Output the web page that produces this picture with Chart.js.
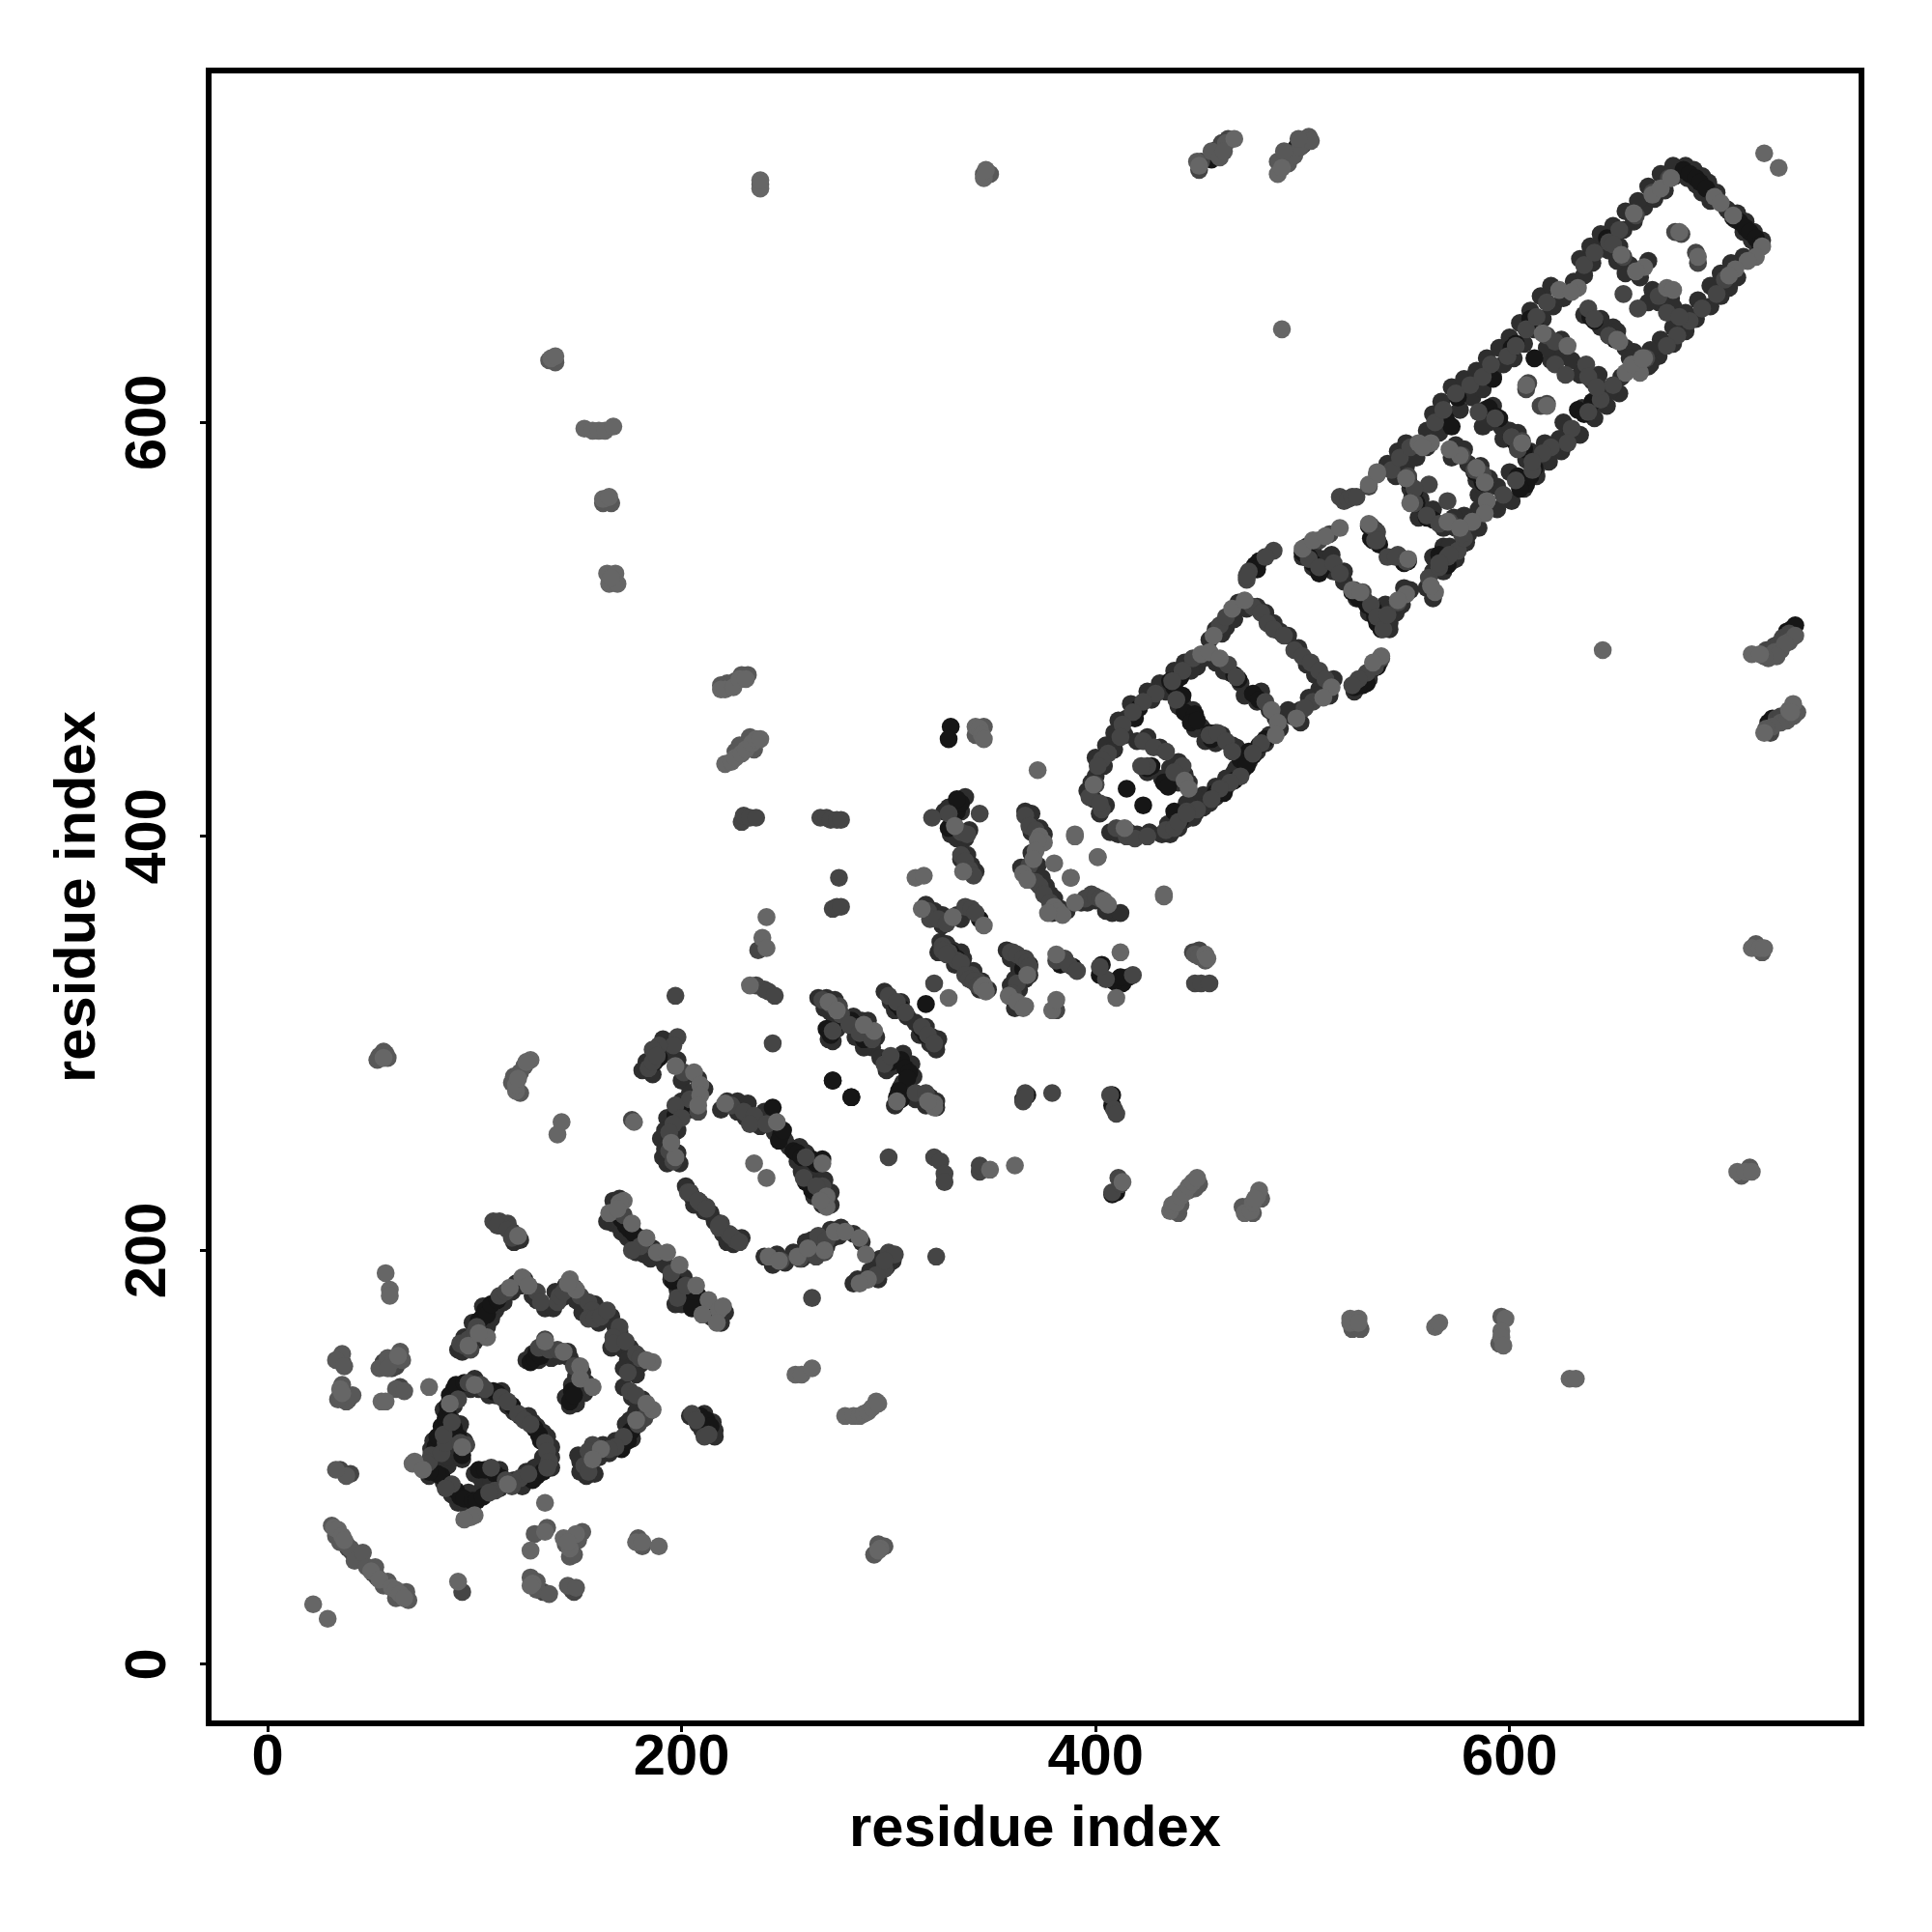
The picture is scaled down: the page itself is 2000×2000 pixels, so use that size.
<!DOCTYPE html>
<html>
<head>
<meta charset="utf-8">
<title>Residue contact map</title>
<script src="https://cdn.jsdelivr.net/npm/chart.js@4"></script>
<style>
    html, body { margin: 0; background: #fff; }
    canvas { display: block; }
</style>
</head>
<body>
<canvas id="contactChart" width="2000" height="2000"></canvas>
<script>
// axis ticks
const tickValues = [0, 200, 400, 600];

// contacts as [residue, residue], split by how dark they print
const strongContacts = [
    [81,105],[82,110],[84,115],[86,119],[87,121],[87,125],[88,130],[90,133],[91,135],[95,136],[109,132],[111,131],[118,125],
    [129,114],[131,111],[132,108],[84,91],[82,92],[78,93],[76,96],[91,84],[93,81],[95,80],[99,79],[101,79],[104,81],[90,114],
    [92,110],[94,101],[102,94],[105,94],[110,92],[113,90],[130,91],[128,89],[133,93],[102,166],[104,168],[105,171],[106,169],
    [108,174],[111,176],[175,112],[171,104],[174,108],[176,113],[127,146],[129,148],[130,151],[132,149],[146,127],[147,132],
    [148,130],[209,120],[212,118],[214,115],[169,218],[171,215],[173,212],[175,210],[177,208],[204,228],[208,224],[196,185],
    [200,183],[204,179],[206,176],[208,178],[211,173],[205,172],[189,293],[187,291],[199,267],[197,265],[202,270],[204,268],
    [244,269],[248,256],[247,253],[249,258],[254,248],[256,247],[258,245],[263,244],[268,244],[265,242],[260,233],[263,229],
    [273,282],[273,282],[282,274],[282,274],[279,310],[282,311],[284,309],[286,307],[289,305],[288,302],[272,304],[270,307],
    [304,319],[306,317],[318,304],[316,307],[300,292],[301,291],[306,292],[308,288],[310,286],[309,283],[304,274],[305,277],
    [306,273],[330,344],[333,341],[365,273],[367,275],[366,340],[368,338],[365,336],[330,410],[333,412],[331,408],[335,416],
    [333,418],[329,404],[408,275],[408,270],[413,329],[416,332],[403,338],[408,227],[410,228],[479,533],[477,531],[476,529],
    [500,537],[503,535],[505,532],[509,529],[508,527],[524,518],[527,515],[531,512],[534,510],[535,506],[538,500],[536,503],
    [534,543],[537,541],[546,535],[549,533],[446,458],[443,460],[448,459],[446,455],[449,456],[455,450],[456,447],[458,450],
    [467,478],[469,476],[476,469],[479,466],[474,441],[476,439],[479,444],[482,447],[470,437],[473,434],[467,427],[462,421],
    [458,421],[436,475],[438,472],[441,477],[442,468],[419,457],[421,462],[415,423],[423,415],[433,426],[435,424],[425,433],
    [427,434],[478,529],[531,474],[529,473],[527,473],[525,472],[536,482],[684,722],[687,720],[690,718],[692,716],[695,713],
    [708,699],[711,697],[714,694],[716,692],[719,689],[721,686],[639,651],[641,649],[648,642],[651,640],[590,607],[593,603],
    [595,602],[601,593],[603,590],[607,587],[611,581],[532,550],[535,548],[533,544],[536,543],[547,535],[549,532],[551,533],
    [560,554],[563,553],[551,572],[554,567],[555,561],[583,576],[587,571],[586,574],[604,574],[606,572],[608,570],[633,606],
    [636,604],[640,610],[612,648],[610,650],[601,636],[603,638],[612,631],[592,621],[734,499],[736,500],[738,502],[725,455],
    [727,457],[612,578],[610,574],[605,568],[566,536],[568,533],[570,531],[647,689],[569,602],[572,598],[575,612],[502,736],
    [500,734],[497,733],[456,727],[459,732],[330,453],[329,447],[344,360],[318,319],[366,338],[389,337],[383,338],[402,333],
    [409,330],[412,332],[438,412],[441,408]
];

const mediumContacts = [
    [39,56],[41,54],[43,53],[45,51],[51,44],[53,42],[94,35],[133,35],[147,36],[148,35],[35,94],[40,92],[35,148],[36,146],
    [39,128],[37,128],[56,146],[62,144],[60,143],[64,134],[64,133],[79,101],[78,98],[77,97],[84,102],[86,107],[85,111],[89,117],
    [92,128],[97,136],[103,135],[105,133],[113,129],[116,127],[121,121],[124,118],[127,116],[134,107],[135,103],[136,98],
    [135,95],[122,90],[126,92],[116,87],[118,86],[110,84],[107,83],[89,87],[86,85],[96,106],[93,107],[108,95],[115,89],
    [93,155],[95,154],[98,152],[97,157],[100,160],[101,163],[112,178],[115,180],[126,183],[130,180],[132,175],[140,175],[141,178],
    [143,180],[148,182],[151,178],[155,175],[157,171],[155,167],[158,167],[161,168],[164,171],[170,163],[167,158],[167,155],
    [173,156],[178,150],[180,148],[174,141],[175,132],[178,130],[182,119],[179,116],[172,110],[168,105],[165,104],[157,106],
    [155,103],[153,96],[155,93],[134,157],[131,153],[136,152],[140,152],[150,143],[148,144],[205,121],[207,118],[211,110],
    [213,111],[109,214],[112,214],[116,213],[111,212],[116,210],[118,206],[119,208],[168,219],[172,217],[180,202],[176,200],
    [195,189],[198,177],[202,183],[203,228],[209,223],[212,221],[218,211],[223,208],[219,213],[226,205],
    [237,345],[240,326],[236,328],[242,325],[245,323],[244,300],[197,323],[198,303],[196,299],[189,299],[186,297],[184,288],
    [186,291],[188,294],[201,286],[204,273],[208,267],[197,270],[200,264],[196,261],[194,257],[194,248],[196,243],[176,263],
    [224,270],[230,267],[235,265],[233,261],[241,261],[260,245],[259,235],[268,231],[265,231],[270,225],[300,245],[322,245],
    [325,243],[327,237],[327,233],[344,238],[344,241],[268,321],[272,319],[276,318],[277,314],[273,306],[281,309],[286,305],
    [292,302],[300,323],[304,320],[308,315],[316,308],[319,304],[322,300],[298,290],[301,294],[313,276],[318,276],[366,276],
    [365,272],[379,276],[322,329],[326,347],[329,344],[333,340],[340,333],[343,330],[346,327],[360,344],[366,341],[362,329],
    [360,324],[381,340],[381,316],[204,228],[208,224],[212,220],[218,212],[224,207],[228,204],[248,195],[257,196],[261,200],
    [266,207],[265,197],[270,205],[269,199],[300,199],[303,198],[298,191],[294,188],[290,186],[298,195],[323,197],[263,177],
    [229,407],[230,410],[233,409],[236,409],[267,409],[270,409],[272,408],[275,408],[277,408],[276,380],[273,365],[275,366],
    [277,366],[321,409],[329,411],[335,402],[338,401],[344,411],[335,391],[337,388],[339,384],[341,381],[319,364],[320,360],
    [324,360],[328,358],[337,366],[340,365],[342,363],[326,345],[328,343],[335,339],[337,333],[339,331],[341,330],[343,328],
    [366,410],[368,405],[371,403],[368,386],[371,378],[373,376],[375,372],[378,368],[395,370],[398,372],[400,371],[402,370],
    [359,344],[362,343],[365,341],[367,339],[368,337],[385,341],[387,338],[391,335],[405,331],[402,337],[418,333],[447,344],
    [450,345],[448,329],[451,329],[455,329],[407,275],[409,268],[410,266],[366,274],[408,228],[411,235],[412,232],
    [494,730],[491,726],[458,730],[461,735],[464,737],[450,722],[451,726],[726,450],[729,457],[731,458],[724,490],[726,490],
    [728,492],[730,493],[732,496],[735,498],[486,538],[482,535],[474,528],[473,524],[473,526],
    [460,502],[463,506],[476,511],[480,508],[483,503],[486,500],[491,497],[496,490],[500,487],[504,484],[508,480],[511,476],
    [505,465],[501,462],[447,486],[442,480],[437,475],[429,469],[423,465],[418,460],[413,454],[412,448],[406,440],[403,437],
    [401,434],[464,483],[468,477],[482,465],[480,445],[476,440],[470,429],[465,426],[460,423],[456,418],[449,413],[444,412],
    [439,466],[455,449],[459,450],[463,446],[466,441],[423,446],[428,443],[434,441],[425,434],[422,434],[442,434],[438,431],
    [400,425],[397,419],[403,413],[402,416],[410,404],[415,400],[419,399],[425,400],[434,403],[438,404],[440,407],[444,411],
    [538,486],[535,482],[531,479],[527,476],[524,473],[503,534],[508,530],[515,532],[518,527],[525,519],[529,518],[533,512],
    [536,506],[539,500],[541,507],[546,513],[535,543],[546,536],[550,533],[541,535],[561,525],[566,530],[570,535],[575,538],
    [578,544],[508,543],[513,546],[518,564],[520,562],[522,563],[524,564],[526,564],[532,569],[536,575],[543,577],[547,583],
    [552,588],[564,600],[568,606],[574,614],[581,618],[587,622],[591,628],[599,632],[603,637],[608,645],[613,651],[618,658],
    [636,676],[641,682],[648,687],[653,693],[661,700],[669,711],[677,718],[704,669],[700,662],[693,655],[687,649],[681,642],
    [676,637],[666,631],[650,618],[644,611],[638,605],[630,597],[628,590],[620,588],[616,585],[611,577],[603,572],[597,565],
    [589,562],[582,552],[577,546],[571,536],[566,532],[680,692],[683,691],[690,682],[691,677],[650,686],[655,680],[672,661],
    [676,653],[682,651],[655,662],[662,655],[638,655],[641,650],[648,642],[618,642],[622,639],[622,628],[627,623],[637,628],
    [638,622],[642,617],[609,619],[615,608],[608,616],[618,609],[585,605],[593,602],[601,593],[606,591],[604,587],[611,581],
    [577,584],[583,577],[587,575],[561,570],[570,562],[554,561],[560,555],[566,551],[571,552],[576,549],[533,550],[536,547],
    [536,543],[545,535],[550,533],[551,574],[554,568]
];

const weakContacts = [
    [22,29],[29,22],[32,66],[34,65],[36,62],[37,60],[50,45],[54,41],[60,37],[62,36],[64,34],[66,32],[92,40],[128,39],[127,38],
    [127,55],[134,64],[146,56],[143,61],[149,63],[145,59],[178,59],[181,59],[189,57],[134,78],[57,189],[59,181],[59,178],
    [35,133],[36,131],[63,149],[55,127],[57,127],[78,134],[71,98],[70,97],[75,94],[88,126],[100,135],[94,105],[100,72],[98,71],
    [95,70],[116,87],[123,187],[126,183],[117,182],[97,154],[106,158],[102,160],[146,186],[149,181],[145,184],[186,146],[183,147],
    [186,123],[183,126],[178,118],[161,104],[157,99],[134,156],[143,151],[151,144],[151,138],[157,134],[121,207],[172,224],[170,223],
    [165,218],[169,220],[176,213],[183,206],[188,199],[193,199],[199,193],[207,183],[213,176],[218,171],[220,173],[217,165],
    [210,169],[239,351],[241,346],[241,361],[233,328],[197,289],[206,286],[209,280],[209,275],[208,270],[197,245],[195,252],
    [221,271],[246,262],[268,242],[270,226],[270,221],[267,224],[235,242],[241,235],[349,239],[361,241],[271,320],[275,316],
    [293,306],[288,309],[322,271],[322,269],[319,272],[304,272],[329,322],[346,328],[367,333],[366,318],[379,316],[381,343],
    [242,197],[247,195],[256,197],[261,201],[274,209],[279,209],[286,206],[289,198],[269,200],[290,186],[286,184],[294,127],
    [255,140],[258,140],[263,143],[279,120],[283,120],[286,120],[288,121],[290,122],[292,124],[295,126],[296,56],[295,55],
    [523,167],[527,167],[523,165],[527,165],[564,163],[566,165],[598,167],[596,161],[596,158],[597,154],[629,138],[632,138],
    [710,238],[714,238],[717,238],[717,346],[721,346],[723,346],[645,490],[717,488],[721,488],[723,450],[735,461],[737,464],
    [736,460],[723,730],[730,723],[490,645],[488,720],[490,723],[450,724],[467,737],[346,718],[347,722],[238,713],[238,717],
    [137,631],[139,632],[153,597],[157,596],[160,596],[163,596],[167,598],[162,563],[165,564],[164,527],[168,527],[165,522],
    [169,522],[166,525],[56,293],[120,277],[120,280],[121,283],[127,292],[125,291],[140,256],[142,262],[177,262],[219,471],
    [221,471],[225,472],[228,476],[231,476],[221,435],[224,436],[226,438],[229,440],[231,442],[234,445],[236,447],[238,447],
    [342,453],[344,452],[345,449],[346,447],[332,405],[336,383],[313,380],[317,381],[316,365],[331,361],[346,357],[345,327],
    [347,325],[372,432],[373,400],[375,397],[372,398],[371,393],[370,389],[365,382],[367,379],[380,366],[382,364],[384,362],
    [377,363],[380,387],[390,400],[388,380],[401,390],[390,368],[404,369],[406,367],[433,371],[358,323],[362,320],[365,317],
    [381,321],[412,344],[410,322],[453,343],[454,341],[413,233],[436,219],[437,222],[439,223],[441,226],[443,228],[445,231],
    [447,233],[449,235],[472,218],[475,219],[476,223],[478,226],[479,229],[477,225],[457,497],[466,510],[472,514],[514,472],
    [510,467],[497,457],[451,488],[455,489],[460,486],[485,461],[488,455],[487,449],[443,427],[445,423],[399,425],[414,404],
    [390,401],[401,390],[388,380],[433,372],[538,487],[534,484],[500,539],[505,543],[511,545],[518,549],[524,519],[528,518],
    [550,517],[546,514],[564,518],[562,521],[536,575],[532,570],[556,590],[562,590],[558,588],[624,664],[633,665],[630,663],
    [660,701],[669,710],[673,713],[678,718],[699,709],[702,706],[708,700],[722,685],[719,680],[715,678],[709,674],[706,671],
    [665,631],[663,624],[656,624],[659,628],[589,562],[588,556],[582,552],[665,675],[661,673],[676,665],[679,664],[682,692],
    [691,680],[654,681],[616,643],[628,637],[618,608],[608,618],[653,639],[664,631],[652,640],[606,590],[576,584],[584,578],
    [588,571],[571,587],[570,552],[576,549],[536,576],[552,561],[550,573],[532,551],[551,534]
];

// contacts along the edges of the long ribbons, they mostly show behind the others
const ribbonContacts = [
    [545,574],[550,579],[555,583],[560,588],[566,595],[570,600],[576,606],[582,612],[587,616],[592,622],[597,628],[602,631],
    [607,638],[612,645],[616,650],[621,656],[626,660],[631,668],[636,671],[640,677],[645,684],[650,689],[655,693],[660,697],
    [665,704],[670,708],[675,712],[680,719],[541,580],[546,586],[550,590],[560,596],[563,604],[567,610],[572,617],[578,621],
    [584,625],[589,631],[595,636],[600,641],[605,648],[610,654],[615,661],[620,666],[634,679],[639,685],[644,691],[650,695],
    [656,702],[662,707],[667,714],[673,720],[679,724],[710,670],[706,665],[702,661],[697,656],[690,650],[685,644],[679,638],
    [672,632],[667,627],[653,614],[647,608],[641,602],[634,594],[625,586],[619,581],[613,574],[607,568],[601,562],[594,558],
    [585,549],[579,542],[574,534],[713,680],[707,677],[702,672],[697,666],[691,659],[685,653],[679,646],[673,640],[668,635],
    [660,627],[654,622],[648,615],[642,609],[635,607],[626,600],[624,592],[617,590],[610,582],[600,576],[594,569],[585,565],
    [585,558],[578,555],[574,549],[568,540],[563,535],[686,718],[690,715],[693,711],[697,707],[685,724],[689,722],[693,719],
    [696,716],[700,711],[705,703],[709,698],[713,692],[717,688],[706,702],[710,701],[714,697],[718,692],[722,688],[720,684],
    [648,683],[653,685],[658,676],[663,670],[667,678],[656,672],[652,678],[669,664],[672,658],[678,660],[679,656],[684,648],
    [667,658],[644,646],[650,646],[636,652],[644,650],[656,636],[660,634],[652,644],[658,631],[668,628],[620,634],[625,633],
    [625,640],[630,630],[634,623],[640,620],[643,623],[645,616],[620,630],[618,636],[588,606],[592,608],[596,598],[600,596],
    [604,595],[608,582],[597,592],[590,600],[587,598],[610,586],[613,578],[572,583],[574,589],[580,580],[586,579],[578,587],
    [584,572],[590,573],[588,567],[553,564],[548,576],[557,558],[563,558],[568,549],[573,554],[579,546],[556,554],[552,568],
    [557,563],[505,538],[510,534],[500,535],[502,540],[505,530],[512,530],[514,536],[515,528],[520,523],[520,528],[526,515],
    [530,514],[532,508],[537,508],[538,503],[542,500],[542,503],[545,508],[548,512],[552,519],[549,520],[543,510],[540,512],
    [563,515],[560,520],[563,528],[568,528],[572,533],[571,540],[577,541],[580,546],[449,482],[446,480],[443,484],[440,477],
    [438,480],[434,470],[431,474],[427,466],[425,470],[420,463],[417,464],[415,457],[411,456],[409,450],[414,449],[405,444],
    [409,442],[400,438],[404,434],[458,500],[455,495],[461,498],[463,501],[467,505],[469,513],[473,510],[478,511],[482,508],
    [486,503],[489,499],[493,497],[498,491],[502,483],[506,478],[512,473],[515,476],[508,471],[513,468],[507,468],[503,467],
    [499,461],[495,458],[493,461],[499,455],[452,486],[458,484],[462,480],[465,479],[470,474],[472,468],[478,465],[480,470],
    [484,461],[487,457],[489,452],[484,449],[482,445],[478,441],[474,436],[471,432],[467,431],[463,424],[458,419],[452,414],
    [447,414],[452,420],[458,424],[463,428],[468,433],[449,418],[444,416],[440,463],[442,464],[447,461],[448,452],[451,453],
    [453,446],[458,445],[461,449],[466,444],[468,443],[420,446],[425,448],[431,443],[425,431],[443,430],[440,436],[436,433],
    [440,426],[445,426],[432,428],[436,427],[398,426],[396,422],[399,418],[402,411],[405,415],[400,429],[407,402],[411,401],
    [416,402],[420,401],[426,402],[432,401],[436,401],[435,406],[440,404],[443,408],[447,409],[451,414],[448,411],[455,416],
    [533,480],[537,484],[525,470],[529,476],[532,476],[79,104],[80,108],[83,106],[85,113],[80,100],[82,98],[86,117],[85,123],
    [90,125],[89,127],[92,132],[94,134],[98,133],[100,138],[102,133],[107,130],[110,130],[113,132],[116,125],[119,122],[122,120],
    [126,120],[128,117],[130,115],[133,112],[135,110],[137,105],[133,100],[137,100],[137,95],[131,96],[129,95],[125,93],[123,86],
    [119,89],[113,88],[112,85],[108,87],[105,86],[102,83],[100,82],[97,83],[92,78],[96,77],[89,82],[85,88],[83,95],[80,95],[78,91],
    [87,96],[87,100],[90,110],[92,113],[89,118],[93,116],[95,108],[94,99],[91,103],[100,92],[103,90],[107,92],[108,89],[112,94],
    [92,152],[95,158],[98,158],[94,151],[100,156],[99,165],[103,161],[106,163],[104,173],[108,167],[110,171],[112,174],[114,175],
    [118,180],[120,184],[122,183],[124,186],[128,178],[130,176],[134,172],[138,172],[139,180],[142,177],[144,183],[147,178],
    [149,176],[153,174],[155,170],[158,174],[152,170],[160,165],[163,167],[166,168],[168,163],[170,160],[166,153],[170,155],
    [172,152],[175,153],[174,147],[176,144],[180,145],[178,140],[172,143],[172,134],[176,129],[181,128],[184,122],[178,122],
    [180,120],[175,118],[173,116],[176,109],[168,108],[165,102],[160,100],[162,106],[153,100],[151,98],[151,93],[154,91],[158,92],
    [150,101],[128,150],[125,147],[131,147],[134,153],[137,148],[141,149],[146,148],[145,151],[148,145],[152,141],[149,139],
    [147,135],[154,136],[144,129],[146,125],[149,126],[153,131],[204,120],[208,116],[210,113],[212,113],[216,110],[216,113],
    [215,117],[211,121],[112,212],[114,212],[118,209],[119,204],[122,205],[167,224],[170,225],[164,214],[167,213],[170,212],
    [171,209],[174,206],[177,204],[180,206],[178,199],[182,198],[186,201],[190,196],[185,196],[192,193],[197,189],[195,186],
    [201,187],[198,181],[203,180],[197,174],[200,174],[204,174],[210,172],[214,172],[218,167],[214,168],[221,170],[219,165],
    [202,231],[205,226],[206,222],[211,219],[214,218],[216,214],[220,208],[222,204],[225,203],[229,206],[240,197],[244,193],
    [246,198],[250,194],[254,199],[258,196],[260,204],[263,198],[263,205],[266,200],[270,202],[273,206],[272,210],[276,207],
    [277,211],[283,208],[287,204],[285,186],[283,184],[291,190],[295,193],[296,196],[299,192],[302,195],[295,186],[299,197],
    [191,302],[193,299],[183,291],[181,287],[186,285],[190,294],[193,296],[200,282],[198,292],[208,283],[211,278],[207,277],
    [207,271],[204,276],[200,272],[197,266],[193,264],[198,258],[192,258],[190,254],[195,255],[191,245],[192,249],[198,247],
    [193,242],[199,242],[219,268],[222,272],[227,267],[227,272],[232,271],[236,262],[231,264],[238,260],[240,267],[243,263],
    [245,257],[250,253],[252,250],[257,250],[260,247],[262,240],[256,243],[258,238],[262,234],[266,236],[269,234],[268,228],
    [264,226],[272,228],[272,222],[268,222],[263,232],[266,322],[269,317],[272,315],[270,322],[274,321],[274,312],[278,311],
    [283,313],[287,311],[290,307],[290,311],[294,303],[292,298],[288,298],[284,303],[275,307],[271,302],[273,301],[298,325],
    [301,320],[303,316],[306,320],[309,313],[313,310],[315,304],[318,308],[321,303],[324,302],[323,297],[320,300],[296,293],
    [299,287],[302,289],[307,295],[311,290],[312,284],[307,281],[306,279],[308,276],[303,270],[310,278],[315,273],[318,270],
    [320,274],[323,272],[323,269],[313,273],[324,344],[325,349],[328,348],[331,345],[332,338],[336,341],[338,335],[341,335],
    [345,330],[344,326],[348,326],[335,344],[318,367],[322,364],[326,362],[333,362],[335,360],[326,357],[327,412],[329,414],
    [335,412],[337,419],[330,401],[333,399],[337,399],[339,403],[335,389],[338,391],[340,386],[342,383],[364,385],[367,383],
    [369,392],[372,386],[374,380],[376,376],[378,372],[380,370],[383,365],[379,363],[386,364],[366,412],[369,411],[373,404],
    [375,401],[369,402],[400,369],[408,363],[405,364],[412,363],[393,368],[396,368],[359,341],[357,345],[363,336],[368,333],
    [366,331],[361,331],[359,328],[363,326],[361,317]
];

// the small groups away from the ribbons
const outerContacts = [
    [54,294],[56,296],[57,295],[58,293],[53,292],[122,286],[124,289],[118,281],[122,276],[119,284],[488,726],[493,725],[496,729],
    [499,733],[503,738],[504,736],[498,737],[491,731],[456,731],[460,728],[463,735],[462,731],[449,726],[219,473],[222,474],
    [226,475],[232,478],[229,478],[226,441],[228,444],[233,448],[235,442],[343,449],[346,453],[342,449],[448,343],[453,340],
    [450,342],[440,218],[441,222],[445,229],[450,232],[448,230],[475,222],[476,218],[480,225],[471,221],[725,486],[728,489],
    [731,490],[735,494],[738,497],[733,493],[729,487],[723,487],[731,455],[734,456],[727,453],[724,452],[737,458],[739,460],
    [596,168],[595,155],[524,162],[528,162],[712,236],[716,240],[719,348],[722,344],[238,715],[346,720],[349,720],[162,561],
    [166,561],[139,629],[136,630],[295,58],[293,53],[298,57],[36,150],[33,147],[37,144],[38,127],[41,130],[34,128],[36,135],
    [54,143],[58,148],[61,147],[65,147],[64,151],[58,143],[62,133],[66,132],[38,91],[33,94],[31,67],[33,62],[35,59],[38,58],
    [40,56],[42,50],[46,54],[48,47],[52,47],[56,38],[58,40],[62,32],[67,35],[68,31],[127,42],[130,36],[130,40],[136,34],[145,38],
    [149,37],[129,63],[135,66],[146,52],[148,53],[152,64],[150,60],[144,58],[181,57],[179,61]
];

const darkGrey = '#161616';
const ribbonGrey = '#2e2e2e';
const midGrey = '#454545';
const outerGrey = '#585858';
const lightGrey = '#666666';

function toPoints(pairs) {
    return pairs.map(p => ({ x: p[0], y: p[1] }));
}

function contactDataset(label, pairs, color) {
    return { label, data: toPoints(pairs), backgroundColor: color, pointRadius: 9.3, borderWidth: 0 };
}

// Frame around the plot, the axes only give one side each
const framePlugin = {
    id: 'frame',
    afterDatasetsDraw(chart) {
        const { ctx, chartArea } = chart;
        ctx.save();
        ctx.strokeStyle = '#000';
        ctx.lineWidth = 6;
        ctx.strokeRect(chartArea.left, chartArea.top, chartArea.width, chartArea.height);
        ctx.restore();
    }
};

function axisOptions(titleText, titlePadding, fixSize) {
    return {
        type: 'linear',
        min: -28.5,
        max: 770,
        afterBuildTicks: scale => {
            scale.ticks = tickValues.map(v => ({ value: v }));
        },
        afterFit: fixSize,
        grid: {
            drawOnChartArea: false,
            drawTicks: true,
            tickLength: 9,
            tickWidth: 3,
            tickColor: '#000'
        },
        border: { display: false },
        title: {
            display: true,
            text: titleText,
            color: '#000',
            padding: titlePadding,
            font: { family: 'Liberation Sans', weight: 'bold', size: 59.7 }
        }
    };
}

const xAxis = axisOptions('residue index', { top: 0, bottom: 70 }, scale => { scale.height = 216; });
xAxis.ticks = {
    color: '#000',
    padding: -8,
    maxRotation: 0,
    font: { family: 'Liberation Sans', weight: 'bold', size: 59.7 }
};

const yAxis = axisOptions('residue index', { top: 46, bottom: 0 }, scale => { scale.width = 216; });
yAxis.ticks = {
    color: '#000',
    padding: 3,
    minRotation: 90,
    maxRotation: 90,
    crossAlign: 'center',
    font: { family: 'Liberation Sans', weight: 'bold', size: 59.7 }
};

new Chart(document.getElementById('contactChart').getContext('2d'), {
    type: 'scatter',
    data: {
        datasets: [
            contactDataset('weak', weakContacts, lightGrey),
            contactDataset('outer', outerContacts, outerGrey),
            contactDataset('medium', mediumContacts, midGrey),
            contactDataset('strong', strongContacts, darkGrey),
            contactDataset('ribbon', ribbonContacts, ribbonGrey)
        ]
    },
    options: {
        responsive: false,
        animation: false,
        layout: { padding: { top: 73, right: 73, bottom: 0, left: 0 } },
        plugins: {
            legend: { display: false },
            tooltip: { enabled: false }
        },
        scales: { x: xAxis, y: yAxis }
    },
    plugins: [framePlugin]
});
</script>
</body>
</html>
